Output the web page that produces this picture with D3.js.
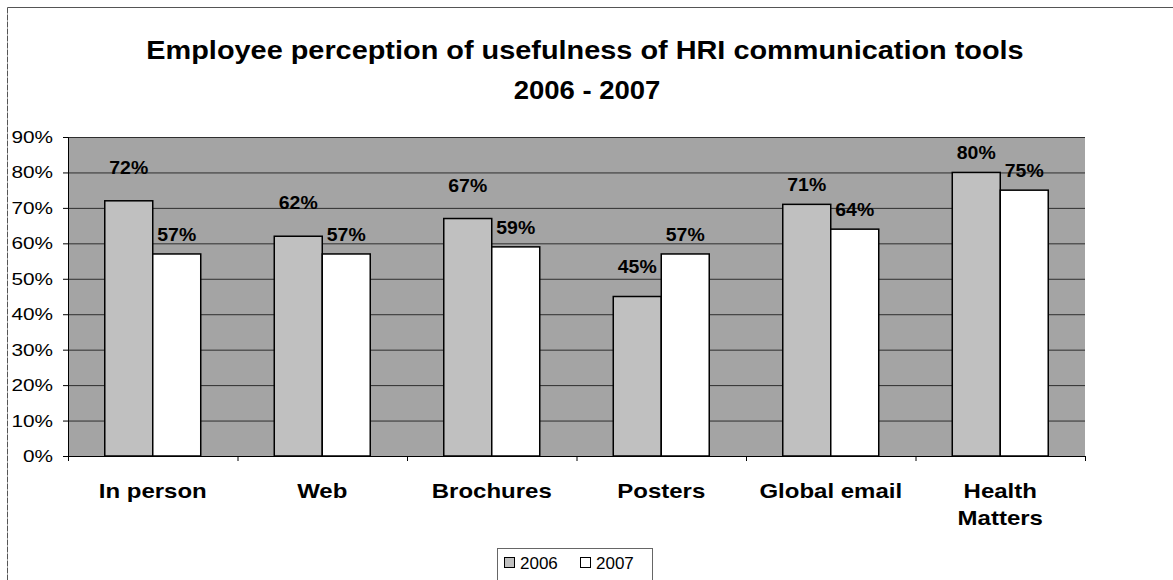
<!DOCTYPE html>
<html>
<head>
<meta charset="utf-8">
<script src="https://cdn.jsdelivr.net/npm/d3@7"></script>
<style>
  html, body { margin: 0; padding: 0; background: #fff; }
  svg { display: block; }
  text { font-family: Arial, "Liberation Sans", sans-serif; fill: #000; }
</style>
</head>
<body>
<svg id="chart" width="1173" height="580"></svg>
<script>
// Chart data
const categories = ["In person", "Web", "Brochures", "Posters", "Global email", "Health Matters"];
const seriesNames = ["2006", "2007"];
const values2006 = [72, 62, 67, 45, 71, 80];
const values2007 = [57, 57, 59, 57, 64, 75];
const yTicks = [0, 10, 20, 30, 40, 50, 60, 70, 80, 90];
const titleLines = ["Employee perception of usefulness of HRI communication tools", "2006 - 2007"];

// Layout
const W = 1173, H = 580;
const plot = { left: 68, right: 1085, top: 137, bottom: 456 };
// Extra lift (px) for the 2006 value labels that sit higher above their bars
const lift2006 = [14, 14, 14, 11, 0, 0];

const fills = { "2006": "#c0c0c0", "2007": "#ffffff" };
const plotBg = "#a4a4a4";

const svg = d3.select("#chart");

// Text helper: the chart's fonts are set slightly wide, so text gets a horizontal stretch
function stretchedText(parent, x, y, str, o) {
  const g = parent.append("g").attr("transform", `translate(${x},${y}) scale(${o.sx || 1},1)`);
  return g.append("text")
    .attr("text-anchor", o.anchor || "middle")
    .attr("font-size", o.size)
    .attr("font-weight", o.bold ? "bold" : "normal")
    .text(str);
}

// Chart-area border (top and left edges)
svg.append("line").attr("x1", 7.5).attr("x2", W).attr("y1", 7.5).attr("y2", 7.5)
  .attr("stroke", "#555").attr("stroke-width", 1);
svg.append("line").attr("x1", 7.5).attr("x2", 7.5).attr("y1", 7.5).attr("y2", H)
  .attr("stroke", "#555").attr("stroke-width", 1).attr("stroke-dasharray", "6,1");

// Title
stretchedText(svg, 585, 59, titleLines[0], { size: 25, bold: true, sx: 1.155 });
stretchedText(svg, 587, 99, titleLines[1], { size: 25, bold: true, sx: 1.1 });

// Scales
const x0 = d3.scaleBand().domain(categories).range([plot.left, plot.right]).padding(0);
const x1 = d3.scaleBand().domain(seriesNames).range([0, x0.bandwidth()])
  .paddingInner(0).paddingOuter(0.766);
const y = d3.scaleLinear().domain([0, 90]).range([plot.bottom, plot.top]);

// Plot background
svg.append("rect").attr("x", plot.left).attr("y", plot.top)
  .attr("width", plot.right - plot.left).attr("height", plot.bottom - plot.top)
  .attr("fill", plotBg);

// Gridlines
const grid = svg.append("g").attr("transform", `translate(${plot.left},0)`)
  .call(d3.axisLeft(y).tickValues(yTicks.filter(d => d > 0)).tickSize(-(plot.right - plot.left)).tickFormat(""));
grid.select(".domain").remove();
grid.selectAll("line").attr("stroke", "#2e2e2e").attr("stroke-width", 1);

// Y axis
const yAxis = svg.append("g").attr("transform", `translate(${plot.left},0)`)
  .call(d3.axisLeft(y).tickValues(yTicks).tickSize(5).tickFormat(""));
yAxis.select(".domain").attr("stroke", "#000");
yAxis.selectAll("line").attr("stroke", "#000");
const yLabels = svg.append("g");
yTicks.forEach(t => {
  stretchedText(yLabels, 53, y(t) + 6, t + "%", { size: 16, sx: 1.3, anchor: "end" });
});

// X axis
const xAxis = svg.append("g").attr("transform", `translate(0,${plot.bottom})`)
  .call(d3.axisBottom(x0).tickSize(0).tickFormat(""));
xAxis.select(".domain").attr("stroke", "#000");
const edges = categories.map(c => x0(c)).concat([plot.right]);
svg.append("g").selectAll("line").data(edges).join("line")
  .attr("x1", d => d + 0.5).attr("x2", d => d + 0.5)
  .attr("y1", plot.bottom).attr("y2", plot.bottom + 5)
  .attr("stroke", "#000");

// Category labels ("Health Matters" wraps onto two lines)
const catLabels = svg.append("g");
categories.forEach(c => {
  const lines = c === "Health Matters" ? ["Health", "Matters"] : [c];
  const cx = x0(c) + x0.bandwidth() / 2;
  lines.forEach((w, i) => {
    stretchedText(catLabels, cx, 498 + i * 27, w, { size: 20, bold: true, sx: 1.2 });
  });
});

// Bars
const rows = categories.map((c, i) => ({ cat: c, i, vals: [values2006[i], values2007[i]] }));
const groups = svg.append("g").selectAll("g").data(rows).join("g")
  .attr("transform", d => `translate(${x0(d.cat)},0)`);

groups.selectAll("rect").data(d => d.vals.map((v, k) => ({ v, s: seriesNames[k] })))
  .join("rect")
  .attr("x", d => x1(d.s))
  .attr("y", d => y(d.v))
  .attr("width", x1.bandwidth())
  .attr("height", d => y(0) - y(d.v))
  .attr("fill", d => fills[d.s])
  .attr("stroke", "#000").attr("stroke-width", 1.5);

// Value labels
groups.each(function (d) {
  const g = d3.select(this);
  d.vals.forEach((v, k) => {
    const s = seriesNames[k];
    const lift = s === "2006" ? lift2006[d.i] : 0;
    stretchedText(g, x1(s) + x1.bandwidth() / 2, y(v) - 13 - lift, v + "%",
      { size: 18, bold: true, sx: 1.08 });
  });
});

// Legend
const lg = svg.append("g");
lg.append("rect").attr("x", 497.5).attr("y", 548.5).attr("width", 155).attr("height", 40)
  .attr("fill", "#fff").attr("stroke", "#666").attr("stroke-width", 1);
const items = [{ s: "2006", x: 504 }, { s: "2007", x: 580 }];
items.forEach(it => {
  lg.append("rect").attr("x", it.x + 0.5).attr("y", 557.5).attr("width", 10).attr("height", 10)
    .attr("fill", fills[it.s]).attr("stroke", "#000").attr("stroke-width", 1);
  lg.append("text").attr("x", it.x + 16).attr("y", 569).attr("font-size", 17).text(it.s);
});
</script>
</body>
</html>
